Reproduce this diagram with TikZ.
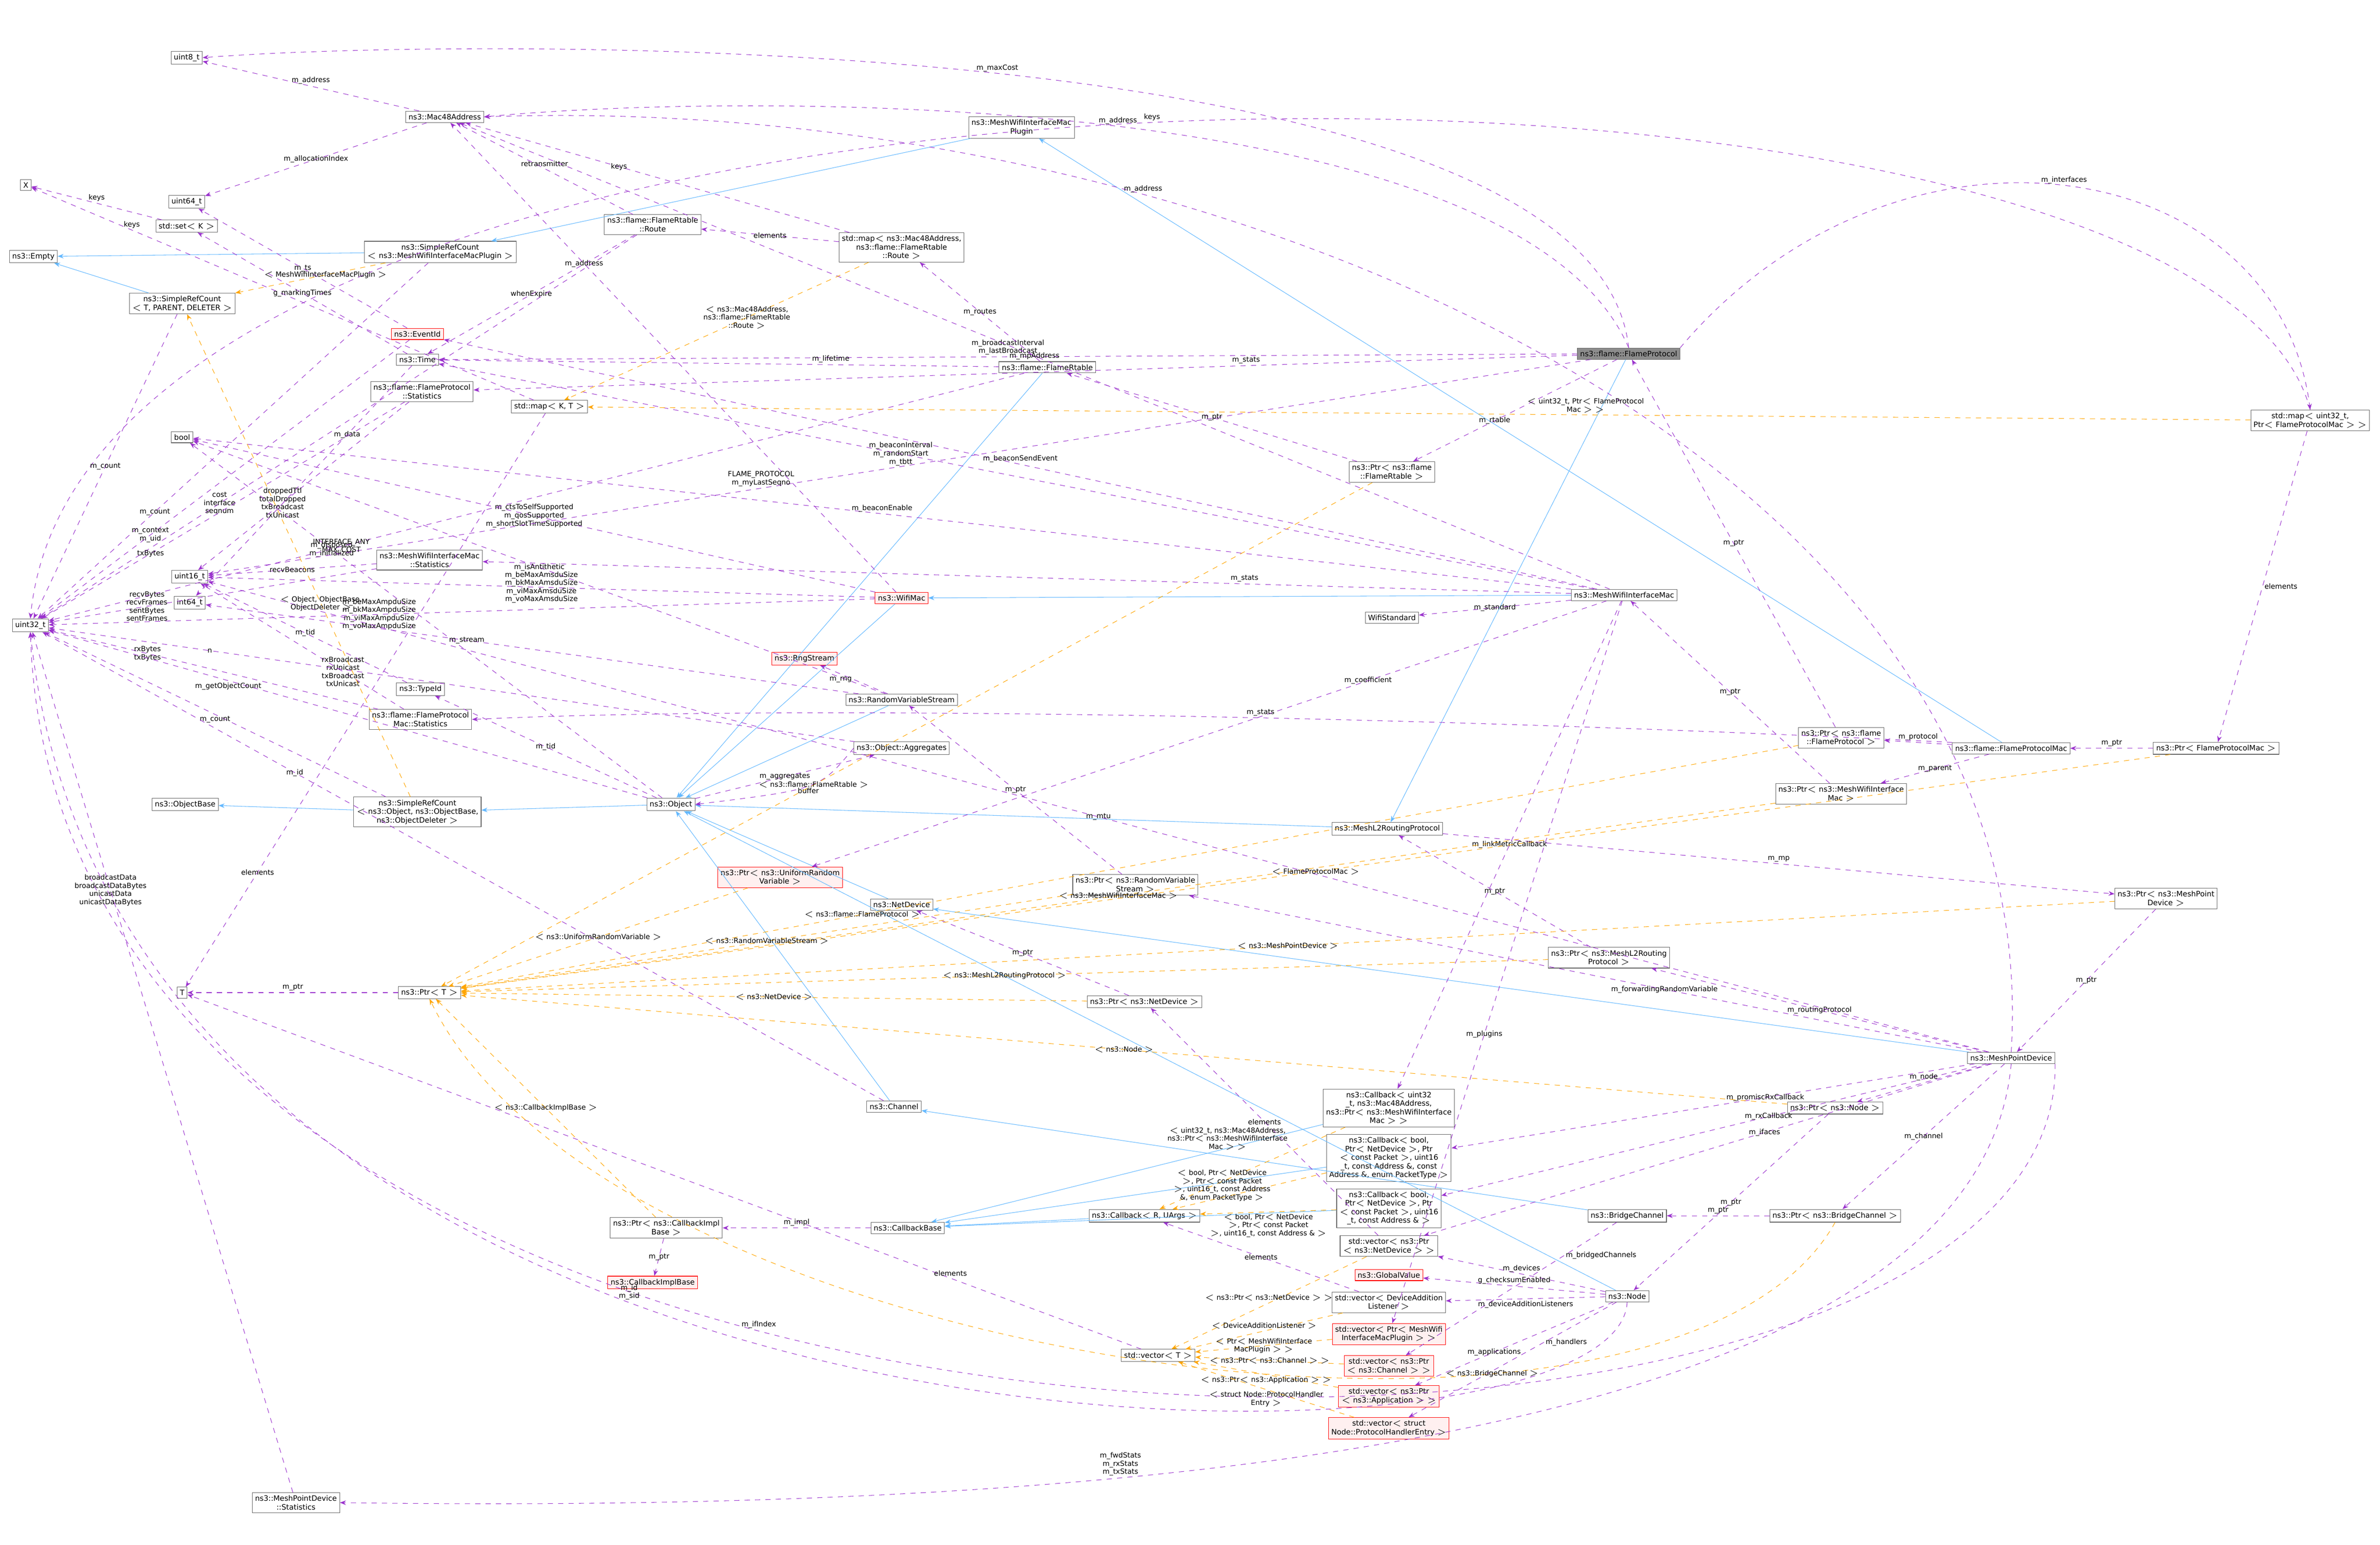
\documentclass[tikz,border=0pt]{standalone}
\usepackage{fontspec}
\setmainfont{DejaVu Sans}
\usetikzlibrary{arrows.meta, positioning}
\definecolor{usecol}{HTML}{9A32CD}
\definecolor{inhcol}{HTML}{63B8FF}
\definecolor{tplcol}{HTML}{FFA500}

\begin{document}
\begin{tikzpicture}[x=0.030887cm, y=-0.030887cm, font=\fontsize{4.3}{5}\selectfont,
  cls/.style={rectangle, draw=black!60, fill=white, inner sep=1.6pt, align=center, line width=0.3pt},
  hl/.style={cls, fill=black!45},
  bad/.style={cls, draw=red, fill=red!6},
  use/.style={draw=usecol, dashed, line width=0.3pt, -{Stealth[length=3.5pt]}},
  inh/.style={draw=inhcol, line width=0.3pt, -{Stealth[length=3.5pt]}},
  tpl/.style={draw=tplcol, dashed, line width=0.3pt, -{Stealth[length=3.5pt]}},
  lbl/.style={align=center, inner sep=1pt, font=\fontsize{4.1}{4.7}\selectfont}]

\useasboundingbox (0,0) rectangle (1568,1017.6);

% basic types
\node[cls] (u8) at (123,38) {uint8\_t};
\node[cls] (mac) at (293,77) {ns3::Mac48Address};
\node[cls] (X) at (17,122) {X};
\node[cls] (u64) at (123,133) {uint64\_t};
\node[cls] (setK) at (123,149) {std::set$<$ K $>$};
\node[cls] (empty) at (22,169) {ns3::Empty};
\node[cls] (srcT) at (120,200) {ns3::SimpleRefCount\\$<$ T, PARENT, DELETER $>$};
\node[cls] (srcP) at (290,166) {ns3::SimpleRefCount\\$<$ ns3::MeshWifiInterfaceMacPlugin $>$};
\node[bad] (evt) at (275,220) {ns3::EventId};
\node[cls] (time) at (275,237) {ns3::Time};
\node[cls] (bool) at (120,288) {bool};
\node[cls] (fpst) at (278,258) {ns3::flame::FlameProtocol\\::Statistics};
\node[cls] (u16) at (125,380) {uint16\_t};
\node[cls] (i64) at (125,397) {int64\_t};
\node[cls] (mwst) at (283,369) {ns3::MeshWifiInterfaceMac\\::Statistics};
\node[cls] (u32) at (20,412) {uint32\_t};
\node[cls] (tid) at (277,454) {ns3::TypeId};
\node[cls] (fpmst) at (277,474) {ns3::flame::FlameProtocol\\Mac::Statistics};
\node[cls] (ob) at (122,530) {ns3::ObjectBase};
\node[cls] (srcO) at (275,535) {ns3::SimpleRefCount\\$<$ ns3::Object, ns3::ObjectBase,\\ ns3::ObjectDeleter $>$};
\node[cls] (T) at (120,654) {T};
\node[cls] (ptrT) at (283,654) {ns3::Ptr$<$ T $>$};
\node[cls] (mpdst) at (195,990) {ns3::MeshPointDevice\\::Statistics};
% middle column
\node[cls] (route) at (430,148) {ns3::flame::FlameRtable\\::Route};
\node[cls] (mapKT) at (362,268) {std::map$<$ K, T $>$};
\node[cls] (mapR) at (594,163) {std::map$<$ ns3::Mac48Address,\\ ns3::flame::FlameRtable\\::Route $>$};
\node[cls] (plug) at (673,84) {ns3::MeshWifiInterfaceMac\\Plugin};
\node[cls] (rtab) at (690,242) {ns3::flame::FlameRtable};
\node[hl] (fp) at (1073,233) {ns3::flame::FlameProtocol};
\node[cls] (ptrRt) at (917,311) {ns3::Ptr$<$ ns3::flame\\::FlameRtable $>$};
\node[bad] (wmac) at (594,394) {ns3::WifiMac};
\node[bad] (rng) at (530,434) {ns3::RngStream};
\node[cls] (rvs) at (594,461) {ns3::RandomVariableStream};
\node[cls] (agg) at (594,493) {ns3::Object::Aggregates};
\node[cls] (obj) at (442,530) {ns3::Object};
\node[bad] (ptrU) at (514,578) {ns3::Ptr$<$ ns3::UniformRandom\\Variable $>$};
\node[cls] (nd) at (594,596) {ns3::NetDevice};
\node[cls] (ptrRvs) at (748,583) {ns3::Ptr$<$ ns3::RandomVariable\\Stream $>$};
\node[cls] (ptrNd) at (754,660) {ns3::Ptr$<$ ns3::NetDevice $>$};
\node[cls] (chan) at (589,729) {ns3::Channel};
\node[cls] (ptrCib) at (439,809) {ns3::Ptr$<$ ns3::CallbackImpl\\Base $>$};
\node[bad] (cib) at (430,845) {ns3::CallbackImplBase};
\node[cls] (cbb) at (598,809) {ns3::CallbackBase};
\node[cls] (cbR) at (754,801) {ns3::Callback$<$ R, UArgs $>$};
% right part
\node[cls] (mwm) at (1070,392) {ns3::MeshWifiInterfaceMac};
\node[cls] (wstd) at (917,407) {WifiStandard};
\node[cls] (ptrFp) at (1213,486) {ns3::Ptr$<$ ns3::flame\\::FlameProtocol $>$};
\node[cls] (fpm) at (1325,493) {ns3::flame::FlameProtocolMac};
\node[cls] (ptrFpm) at (1460,493) {ns3::Ptr$<$ FlameProtocolMac $>$};
\node[cls] (ptrMwm) at (1213,523) {ns3::Ptr$<$ ns3::MeshWifiInterface\\Mac $>$};
\node[cls] (l2) at (914,546) {ns3::MeshL2RoutingProtocol};
\node[cls] (ptrL2) at (1060,631) {ns3::Ptr$<$ ns3::MeshL2Routing\\Protocol $>$};
\node[cls] (ptrMpd) at (1427,592) {ns3::Ptr$<$ ns3::MeshPoint\\Device $>$};
\node[cls] (mapI) at (1522,277) {std::map$<$ uint32\_t,\\ Ptr$<$ FlameProtocolMac $>$ $>$};
\node[cls] (mpd) at (1325,697) {ns3::MeshPointDevice};
\node[cls] (ptrNode) at (1209,730) {ns3::Ptr$<$ ns3::Node $>$};
\node[cls] (cbU) at (915,730) {ns3::Callback$<$ uint32\\\_t, ns3::Mac48Address,\\ ns3::Ptr$<$ ns3::MeshWifiInterface\\Mac $>$ $>$};
\node[cls] (cbB6) at (915,763) {ns3::Callback$<$ bool,\\ Ptr$<$ NetDevice $>$, Ptr\\$<$ const Packet $>$, uint16\\\_t, const Address \&, const\\ Address \&, enum PacketType $>$};
\node[cls] (cbB5) at (915,796) {ns3::Callback$<$ bool,\\ Ptr$<$ NetDevice $>$, Ptr\\$<$ const Packet $>$, uint16\\\_t, const Address \& $>$};
\node[cls] (bch) at (1072,801) {ns3::BridgeChannel};
\node[cls] (ptrBch) at (1209,801) {ns3::Ptr$<$ ns3::BridgeChannel $>$};
\node[cls] (vNd) at (915,821) {std::vector$<$ ns3::Ptr\\$<$ ns3::NetDevice $>$ $>$};
\node[bad] (gv) at (915,840) {ns3::GlobalValue};
\node[cls] (vDal) at (915,858) {std::vector$<$ DeviceAddition\\Listener $>$};
\node[cls] (node) at (1072,854) {ns3::Node};
\node[cls] (vT) at (763,893) {std::vector$<$ T $>$};
\node[bad] (vPl) at (915,879) {std::vector$<$ Ptr$<$ MeshWifi\\InterfaceMacPlugin $>$ $>$};
\node[bad] (vCh) at (915,900) {std::vector$<$ ns3::Ptr\\$<$ ns3::Channel $>$ $>$};
\node[bad] (vApp) at (915,920) {std::vector$<$ ns3::Ptr\\$<$ ns3::Application $>$ $>$};
\node[bad] (vPh) at (915,941) {std::vector$<$ struct\\ Node::ProtocolHandlerEntry $>$};

% inheritance
\foreach \d/\b in {srcP/empty, srcT/empty, srcO/ob, plug/srcP, obj/srcO, rvs/obj, wmac/obj,
  nd/obj, chan/obj, l2/obj, rtab/obj, fp/l2, mwm/wmac, fpm/plug, mpd/nd, bch/chan, node/obj,
  cbR/cbb, cbU/cbb, cbB6/cbb, cbB5/cbb}
  \draw[inh] (\d) -- (\b);

% members
\draw[use] (mac) -- node[lbl, above]{m\_address} (u8);
\draw[use] (mac) -- node[lbl]{m\_allocationIndex} (u64);
\draw[use] (route) -- node[lbl, above]{retransmitter} (mac);
\draw[use] (route) -- node[lbl]{whenExpire} (time);
\draw[use] (route) -- node[lbl, pos=0.7]{cost\\interface\\seqnum} (u32);
\draw[use] (setK) -- node[lbl, above]{keys} (X);
\draw[use] (mapKT) -- node[lbl, pos=0.8, above]{keys} (X);
\draw[use] (mapI.north) .. controls (1450,-5) and (60,-5) .. node[lbl, above, pos=0.5]{keys} (u32.north);
\draw[use] (srcT) -- node[lbl]{m\_count} (u32);
\draw[use] (srcP) -- node[lbl, pos=0.7]{m\_count} (u32);
\draw[use] (srcO) -- node[lbl, below]{m\_count} (u32);
\draw[use] (evt) -- node[lbl, pos=0.7]{m\_context\\m\_uid} (u32);
\draw[use] (evt) -- node[lbl]{m\_ts} (u64);
\draw[use] (time) -- node[lbl, pos=0.3]{m\_data} (i64);
\draw[use] (time) -- node[lbl]{g\_markingTimes} (setK);
\draw[use] (fpst) -- node[lbl, pos=0.7]{txBytes} (u32);
\draw[use] (fpst) -- node[lbl, pos=0.6]{droppedTtl\\totalDropped\\txBroadcast\\txUnicast} (u16);
\draw[use] (mwst) -- node[lbl, pos=0.7]{recvBytes\\recvFrames\\sentBytes\\sentFrames} (u32);
\draw[use] (mwst) -- node[lbl]{recvBeacons} (u16);
\draw[use] (tid) -- node[lbl]{m\_tid} (u16);
\draw[use] (fpmst) -- node[lbl, pos=0.7]{rxBytes\\txBytes} (u32);
\draw[use] (fpmst) -- node[lbl, pos=0.3]{rxBroadcast\\rxUnicast\\txBroadcast\\txUnicast} (u16);
\draw[use] (mapKT) -- node[lbl, pos=0.8]{elements} (T);
\draw[use] (vT) -- node[lbl, pos=0.2, above]{elements} (T);
\draw[use] (ptrT) -- node[lbl, above]{m\_ptr} (T);
\draw[use] (obj) -- node[lbl, pos=0.7]{m\_disposed\\m\_initialized} (bool);
\draw[use] (obj) -- node[lbl]{m\_tid} (tid);
\draw[use] (obj) -- node[lbl]{m\_aggregates} (agg);
\draw[use] (agg.west) .. controls (540,520) .. node[lbl, below]{buffer} (obj.east);
\draw[use] (agg) -- node[lbl, pos=0.8]{n} (u32);
\draw[use] (obj) -- node[lbl, pos=0.7, below]{m\_getObjectCount} (u32);
\draw[use] (rvs) -- node[lbl]{m\_isAntithetic} (bool);
\draw[use] (rvs) -- node[lbl, left]{m\_rng} (rng);
\draw[use] (rvs) -- node[lbl, pos=0.6]{m\_stream} (i64);
\draw[use] (wmac) -- node[lbl]{m\_ctsToSelfSupported\\m\_qosSupported\\m\_shortSlotTimeSupported} (bool);
\draw[use] (wmac) -- node[lbl]{m\_beMaxAmsduSize\\m\_bkMaxAmsduSize\\m\_viMaxAmsduSize\\m\_voMaxAmsduSize} (u16);
\draw[use] (wmac) -- node[lbl, pos=0.6]{m\_beMaxAmpduSize\\m\_bkMaxAmpduSize\\m\_viMaxAmpduSize\\m\_voMaxAmpduSize} (u32);
\draw[use] (wmac) -- node[lbl, pos=0.7]{m\_address} (mac);
\draw[use] (chan) -- node[lbl, pos=0.7]{m\_id} (u32);
\draw[use] (l2) -- node[lbl, above]{m\_mp} (ptrMpd);
\draw[use] (fp.north) .. controls (1000,60) and (500,60) .. node[lbl, above]{m\_address} (mac.east);
\draw[use] (fp.north) .. controls (1050,15) and (300,25) .. node[lbl, above]{m\_maxCost} (u8.east);
\draw[use] (fp) -- node[lbl, above]{m\_broadcastInterval\\m\_lastBroadcast} (time);
\draw[use] (fp) -- node[lbl, above, pos=0.3]{m\_stats} (fpst);
\draw[use] (fp) -- node[lbl, pos=0.6]{m\_rtable} (ptrRt);
\draw[use] (fp.north east) .. controls (1250,60) and (1500,100) .. node[lbl, above]{m\_interfaces} (mapI.north);
\draw[use] (fp) -- node[lbl, above, pos=0.6]{FLAME\_PROTOCOL\\m\_myLastSeqno} (u16);
\draw[use] (rtab) -- node[lbl]{m\_routes} (mapR);
\draw[use] (rtab) -- node[lbl, above, pos=0.3]{m\_lifetime} (time);
\draw[use] (rtab) -- node[lbl, pos=0.7]{INTERFACE\_ANY\\MAX\_COST} (u32);
\draw[use] (mapR) -- node[lbl, pos=0.6]{keys} (mac);
\draw[use] (mapR) -- node[lbl]{elements} (route);
\draw[use] (mapI) -- node[lbl, right]{elements} (ptrFpm);
\draw[use] (ptrRt) -- node[lbl]{m\_ptr} (rtab);
\draw[use] (mwm) -- node[lbl, above, pos=0.3]{m\_stats} (mwst);
\draw[use] (mwm) -- node[lbl]{m\_standard} (wstd);
\draw[use] (mwm) -- node[lbl, above, pos=0.5]{m\_beaconSendEvent} (evt);
\draw[use] (mwm) -- node[lbl, above, pos=0.5]{m\_beaconEnable} (bool);
\draw[use] (mwm) -- node[lbl, pos=0.5]{m\_mpAddress} (mac);
\draw[use] (mwm) -- node[lbl, pos=0.3]{m\_coefficient} (ptrU);
\draw[use] (mwm) -- node[lbl, pos=0.6]{m\_beaconInterval\\m\_randomStart\\m\_tbtt} (time);
\draw[use] (mwm) -- node[lbl, pos=0.5]{m\_linkMetricCallback} (cbU);
\draw[use] (mwm) -- node[lbl, pos=0.6]{m\_plugins} (vPl);
\draw[use] (ptrMwm) -- node[lbl]{m\_ptr} (mwm);
\draw[use] (ptrFp) -- node[lbl]{m\_ptr} (fp);
\draw[use] (fpm) -- node[lbl, above]{m\_protocol} (ptrFp);
\draw[use] (fpm) -- node[lbl]{m\_parent} (ptrMwm);
\draw[use] (fpm.north west) .. controls (900,470) and (500,465) .. node[lbl, above, pos=0.4]{m\_stats} (fpmst.east);
\draw[use] (ptrFpm) -- node[lbl, above]{m\_ptr} (fpm);
\draw[use] (ptrMpd) -- node[lbl]{m\_ptr} (mpd);
\draw[use] (ptrL2) -- node[lbl]{m\_ptr} (l2);
\draw[use] (mpd) -- node[lbl]{m\_routingProtocol} (ptrL2);
\draw[use] (mpd) -- node[lbl, pos=0.4]{m\_forwardingRandomVariable} (ptrRvs);
\draw[use] (mpd) -- node[lbl, pos=0.4]{m\_promiscRxCallback} (cbB6);
\draw[use] (mpd) -- node[lbl, pos=0.4]{m\_rxCallback} (cbB5);
\draw[use] (mpd) -- node[lbl, above]{m\_node} (ptrNode);
\draw[use] (mpd) -- node[lbl]{m\_channel} (ptrBch);
\draw[use] (mpd.south) .. controls (1300,980) and (600,995) .. node[lbl, above, pos=0.62]{m\_fwdStats\\m\_rxStats\\m\_txStats} (mpdst.east);
\draw[use] (mpd.south east) .. controls (1360,1030) and (40,1030) .. node[lbl, above, pos=0.6]{m\_ifIndex} (u32.south);
\draw[use] (mpd.north) .. controls (1350,300) and (800,60) .. node[lbl, above, pos=0.7]{m\_address} (mac.east);
\draw[use] (mpd) -- node[lbl, pos=0.5]{m\_mtu} (u16);
\draw[use] (mpd) -- node[lbl, pos=0.4]{m\_ifaces} (vNd);
\draw[use] (ptrRvs) -- node[lbl]{m\_ptr} (rvs);
\draw[use] (ptrNd) -- node[lbl]{m\_ptr} (nd);
\draw[use] (ptrNode) -- node[lbl]{m\_ptr} (node);
\draw[use] (ptrBch) -- node[lbl, above]{m\_ptr} (bch);
\draw[use] (bch) -- node[lbl, pos=0.25, right]{m\_bridgedChannels} (vCh);
\draw[use] (node) -- node[lbl, above]{m\_devices} (vNd);
\draw[use] (node) -- node[lbl, above]{g\_checksumEnabled} (gv);
\draw[use] (node) -- node[lbl, below]{m\_deviceAdditionListeners} (vDal);
\draw[use] (node) -- node[lbl, pos=0.6]{m\_applications} (vApp);
\draw[use] (node) -- node[lbl, pos=0.35, right]{m\_handlers} (vPh);
\draw[use] (node.south) .. controls (1066,990) and (80,990) .. node[lbl, above, pos=0.6]{m\_id\\m\_sid} (u32.south);
\draw[use] (ptrCib) -- node[lbl]{m\_ptr} (cib);
\draw[use] (cbb) -- node[lbl, above]{m\_impl} (ptrCib);
\draw[use] (vNd) -- node[lbl]{elements} (ptrNd);
\draw[use] (vDal) -- node[lbl]{elements} (cbR);
\draw[use] (mpdst) -- node[lbl, pos=0.7]{broadcastData\\broadcastDataBytes\\unicastData\\unicastDataBytes} (u32);

% template instances
\draw[tpl] (srcP) -- node[lbl, pos=0.4]{$<$ MeshWifiInterfaceMacPlugin $>$} (srcT);
\draw[tpl] (srcO) -- node[lbl, pos=0.4]{$<$ Object, ObjectBase,\\ObjectDeleter $>$} (srcT);
\draw[tpl] (mapR) -- node[lbl, pos=0.4]{$<$ ns3::Mac48Address,\\ ns3::flame::FlameRtable\\::Route $>$} (mapKT);
\draw[tpl] (mapI) -- node[lbl, pos=0.4, above]{$<$ uint32\_t, Ptr$<$ FlameProtocol\\Mac $>$ $>$} (mapKT);
\draw[tpl] (ptrRt) -- node[lbl, pos=0.6]{$<$ ns3::flame::FlameRtable $>$} (ptrT);
\draw[tpl] (ptrFp) -- node[lbl, pos=0.7]{$<$ ns3::flame::FlameProtocol $>$} (ptrT);
\draw[tpl] (ptrMwm) -- node[lbl, pos=0.5]{$<$ ns3::MeshWifiInterfaceMac $>$} (ptrT);
\draw[tpl] (ptrFpm) -- node[lbl, pos=0.5]{$<$ FlameProtocolMac $>$} (ptrT);
\draw[tpl] (ptrMpd) -- node[lbl, pos=0.5]{$<$ ns3::MeshPointDevice $>$} (ptrT);
\draw[tpl] (ptrL2) -- node[lbl, pos=0.5]{$<$ ns3::MeshL2RoutingProtocol $>$} (ptrT);
\draw[tpl] (ptrU) -- node[lbl, pos=0.5]{$<$ ns3::UniformRandomVariable $>$} (ptrT);
\draw[tpl] (ptrRvs) -- node[lbl, pos=0.5]{$<$ ns3::RandomVariableStream $>$} (ptrT);
\draw[tpl] (ptrNd) -- node[lbl, pos=0.5]{$<$ ns3::NetDevice $>$} (ptrT);
\draw[tpl] (ptrNode) -- node[lbl, pos=0.5]{$<$ ns3::Node $>$} (ptrT);
\draw[tpl] (ptrBch.south) .. controls (1100,1000) and (400,900) .. node[lbl, pos=0.3]{$<$ ns3::BridgeChannel $>$} (ptrT.south);
\draw[tpl] (ptrCib) -- node[lbl, pos=0.5]{$<$ ns3::CallbackImplBase $>$} (ptrT);
\draw[tpl] (cbU) -- node[lbl, pos=0.3, above left]{$<$ uint32\_t, ns3::Mac48Address,\\ ns3::Ptr$<$ ns3::MeshWifiInterface\\Mac $>$ $>$} (cbR);
\draw[tpl] (cbB6) -- node[lbl, pos=0.35, left]{$<$ bool, Ptr$<$ NetDevice\\ $>$, Ptr$<$ const Packet\\ $>$, uint16\_t, const Address\\ \&, enum PacketType $>$} (cbR);
\draw[tpl] (cbB5) -- node[lbl, pos=0.5, below]{$<$ bool, Ptr$<$ NetDevice\\ $>$, Ptr$<$ const Packet\\ $>$, uint16\_t, const Address \& $>$} (cbR);
\draw[tpl] (vNd) -- node[lbl, pos=0.5, above]{$<$ ns3::Ptr$<$ ns3::NetDevice $>$ $>$} (vT);
\draw[tpl] (vDal) -- node[lbl, pos=0.5, above]{$<$ DeviceAdditionListener $>$} (vT);
\draw[tpl] (vPl) -- node[lbl, pos=0.5]{$<$ Ptr$<$ MeshWifiInterface\\MacPlugin $>$ $>$} (vT);
\draw[tpl] (vCh) -- node[lbl, pos=0.5]{$<$ ns3::Ptr$<$ ns3::Channel $>$ $>$} (vT);
\draw[tpl] (vApp) -- node[lbl, pos=0.5, below]{$<$ ns3::Ptr$<$ ns3::Application $>$ $>$} (vT);
\draw[tpl] (vPh) -- node[lbl, pos=0.5, below]{$<$ struct Node::ProtocolHandler\\Entry $>$} (vT);
\end{tikzpicture}
\end{document}
